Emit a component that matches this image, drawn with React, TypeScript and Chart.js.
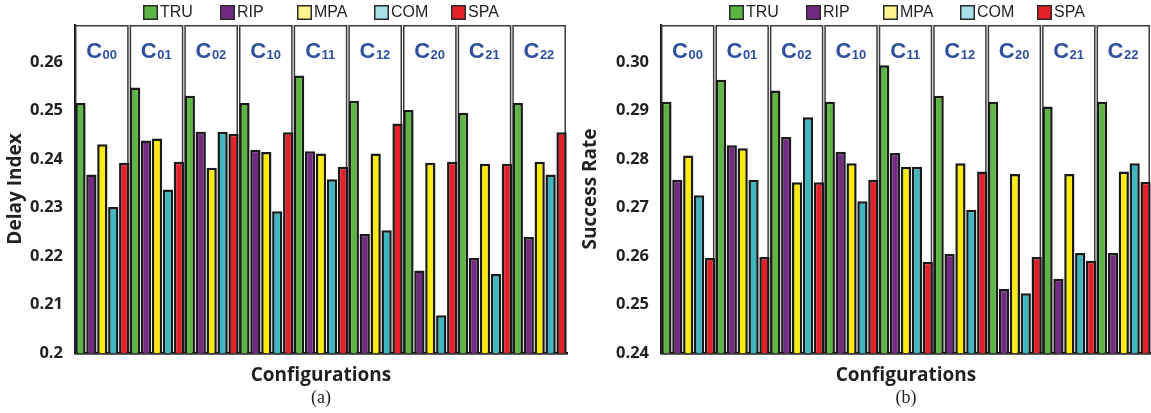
import React, { useEffect, useRef } from 'react';
import { Chart, registerables } from 'chart.js';

Chart.register(...registerables);

const categories = ['C00', 'C01', 'C02', 'C10', 'C11', 'C12', 'C20', 'C21', 'C22'];
const seriesNames = ['TRU', 'RIP', 'MPA', 'COM', 'SPA'];
const barColors = ['#5db643', '#732a84', '#fbeb0a', '#3db7c2', '#e6202a'];
const legendColors = ['#5db643', '#732a84', '#fbf38c', '#a8dfe8', '#e6202a'];

// (a) Delay Index
const delayTRU = [0.2515, 0.2547, 0.2530, 0.2515, 0.2572, 0.2520, 0.2501, 0.2495, 0.2515];
const delayRIP = [0.2368, 0.2438, 0.2456, 0.2419, 0.2416, 0.2245, 0.2170, 0.2196, 0.2239];
const delayMPA = [0.2430, 0.2442, 0.2382, 0.2414, 0.2411, 0.2411, 0.2392, 0.2390, 0.2394];
const delayCOM = [0.2301, 0.2337, 0.2456, 0.2292, 0.2358, 0.2253, 0.2078, 0.2163, 0.2368];
const delaySPA = [0.2392, 0.2394, 0.2452, 0.2455, 0.2384, 0.2473, 0.2394, 0.2390, 0.2455];
const delayTicks = [0.2, 0.21, 0.22, 0.23, 0.24, 0.25, 0.26];
const delayTickLabels = ['0.2', '0.21', '0.22', '0.23', '0.24', '0.25', '0.26'];

// (b) Success Rate
const succTRU = [0.2918, 0.2963, 0.2941, 0.2918, 0.2993, 0.2930, 0.2918, 0.2908, 0.2918];
const succRIP = [0.2757, 0.2828, 0.2845, 0.2815, 0.2812, 0.2604, 0.2532, 0.2553, 0.2606];
const succMPA = [0.2807, 0.2822, 0.2752, 0.2791, 0.2784, 0.2791, 0.2769, 0.2769, 0.2774];
const succCOM = [0.2725, 0.2757, 0.2886, 0.2713, 0.2784, 0.2695, 0.2523, 0.2606, 0.2791];
const succSPA = [0.2596, 0.2598, 0.2752, 0.2757, 0.2588, 0.2774, 0.2598, 0.2590, 0.2753];
const succTicks = [0.24, 0.25, 0.26, 0.27, 0.28, 0.29, 0.3];
const succTickLabels = ['0.24', '0.25', '0.26', '0.27', '0.28', '0.29', '0.30'];

const TEXT = '#231f20';
const LABEL_BLUE = '#2f4f9f';
const TICK_FONT = "'Open Sans', 'DejaVu Sans', sans-serif";
const ARIAL = "'Liberation Sans', Arial, sans-serif";

const groupPlugin = {
  id: 'groupBoxes',
  beforeDatasetsDraw(chart: any) {
    const { ctx, chartArea, scales } = chart;
    const xs = scales.x;
    const w = xs.width / categories.length;
    ctx.save();
    ctx.strokeStyle = '#3a3a3a';
    ctx.lineWidth = 1.5;
    categories.forEach((_c, i) => {
      const cx = xs.getPixelForValue(i);
      const left = cx - w / 2;
      ctx.strokeRect(left + 0.75, chartArea.top + 0.75, w - 2.5, chartArea.bottom - chartArea.top);
    });
    ctx.restore();
  },
  afterDatasetsDraw(chart: any) {
    const { ctx, chartArea, scales } = chart;
    const xs = scales.x;
    ctx.save();
    ctx.fillStyle = LABEL_BLUE;
    ctx.textBaseline = 'alphabetic';
    ctx.textAlign = 'left';
    categories.forEach((c, i) => {
      const cx = xs.getPixelForValue(i);
      const main = c.charAt(0);
      const sub = c.slice(1);
      ctx.font = `bold 22px ${ARIAL}`;
      const wm = ctx.measureText(main).width;
      ctx.font = `bold 13px ${ARIAL}`;
      const ws = ctx.measureText(sub).width;
      const start = cx - (wm + ws) / 2 - 1;
      const base = chartArea.top + 33;
      ctx.font = `bold 22px ${ARIAL}`;
      ctx.fillText(main, start, base);
      ctx.font = `bold 13px ${ARIAL}`;
      ctx.fillText(sub, start + wm + 0.5, base + 0.5);
    });
    ctx.restore();
  },
  afterDraw(chart: any) {
    const { ctx, chartArea } = chart;
    ctx.save();
    ctx.font = `16px ${ARIAL}`;
    ctx.textBaseline = 'middle';
    ctx.textAlign = 'left';
    seriesNames.forEach((name, i) => {
      const bx = chartArea.left + 68 + i * 77;
      const by = 5;
      ctx.fillStyle = legendColors[i];
      ctx.fillRect(bx, by, 15, 15);
      ctx.strokeStyle = '#2a2a2a';
      ctx.lineWidth = 1.5;
      ctx.strokeRect(bx + 0.75, by + 0.75, 13.5, 13.5);
      ctx.fillStyle = TEXT;
      ctx.fillText(name, bx + 17, by + 8);
    });
    ctx.restore();
  },
};

type PanelProps = {
  width: number;
  height: number;
  left: number;
  yWidth: number;
  padRight: number;
  series: number[][];
  ticks: number[];
  tickLabels: string[];
  yMax: number;
  yTitle: string;
};

function Panel(props: PanelProps) {
  const ref = useRef<HTMLCanvasElement | null>(null);
  useEffect(() => {
    if (!ref.current) return;
    const chart = new Chart(ref.current, {
      type: 'bar',
      data: {
        labels: categories,
        datasets: seriesNames.map((name, i) => ({
          label: name,
          data: props.series[i],
          backgroundColor: barColors[i],
          borderColor: '#1a1a1a',
          borderWidth: 2.5,
          categoryPercentage: 1.0,
          barPercentage: 0.94,
        })),
      },
      options: {
        animation: false,
        responsive: false,
        devicePixelRatio: 1,
        layout: { padding: { top: 25, right: props.padRight, bottom: 0, left: 0 } },
        plugins: {
          legend: { display: false },
          tooltip: { enabled: false },
        },
        scales: {
          x: {
            grid: { display: false },
            border: { display: true, color: '#111111', width: 2.5 },
            ticks: { display: false },
            title: {
              display: true,
              text: 'Configurations',
              color: TEXT,
              font: { family: TICK_FONT, size: 19, weight: 'bold' },
              padding: { top: 0, bottom: 26 },
            },
            afterFit: (s: any) => {
              s.height = 60;
            },
          },
          y: {
            min: props.ticks[0],
            max: props.yMax,
            grid: { display: false },
            border: { display: true, color: '#111111', width: 2 },
            afterBuildTicks: (s: any) => {
              s.ticks = props.ticks.map((v) => ({ value: v }));
            },
            ticks: {
              color: TEXT,
              padding: 4,
              font: { family: TICK_FONT, size: 16.5, weight: 'bold' },
              callback: (_v: any, idx: number) => props.tickLabels[idx],
            },
            title: {
              display: true,
              text: props.yTitle,
              color: TEXT,
              font: { family: TICK_FONT, size: 19, weight: 'bold' },
              padding: { top: 4, bottom: 0 },
            },
            afterFit: (s: any) => {
              s.width = props.yWidth;
            },
          },
        },
      },
      plugins: [groupPlugin],
    });
    return () => chart.destroy();
  }, []);
  return (
    <canvas
      ref={ref}
      width={props.width}
      height={props.height}
      style={{ position: 'absolute', left: props.left, top: 0, width: props.width, height: props.height }}
    />
  );
}

export default function App() {
  const captionStyle = (cx: number): React.CSSProperties => ({
    position: 'absolute',
    left: cx - 30,
    width: 60,
    top: 386,
    textAlign: 'center',
    fontFamily: "'Liberation Serif', 'Times New Roman', serif",
    fontSize: 18,
    lineHeight: '22px',
    color: TEXT,
  });
  return (
    <div style={{ position: 'absolute', left: 0, top: 0, width: 1151, height: 413, background: '#ffffff', overflow: 'hidden' }}>
      <Panel
        width={575}
        height={413}
        left={0}
        yWidth={75}
        padRight={8}
        series={[delayTRU, delayRIP, delayMPA, delayCOM, delaySPA]}
        ticks={delayTicks}
        tickLabels={delayTickLabels}
        yMax={0.2676}
        yTitle="Delay Index"
      />
      <Panel
        width={576}
        height={413}
        left={575}
        yWidth={86}
        padRight={0}
        series={[succTRU, succRIP, succMPA, succCOM, succSPA]}
        ticks={succTicks}
        tickLabels={succTickLabels}
        yMax={0.3076}
        yTitle="Success Rate"
      />
      <div style={captionStyle(321)}>(a)</div>
      <div style={captionStyle(906)}>(b)</div>
    </div>
  );
}
